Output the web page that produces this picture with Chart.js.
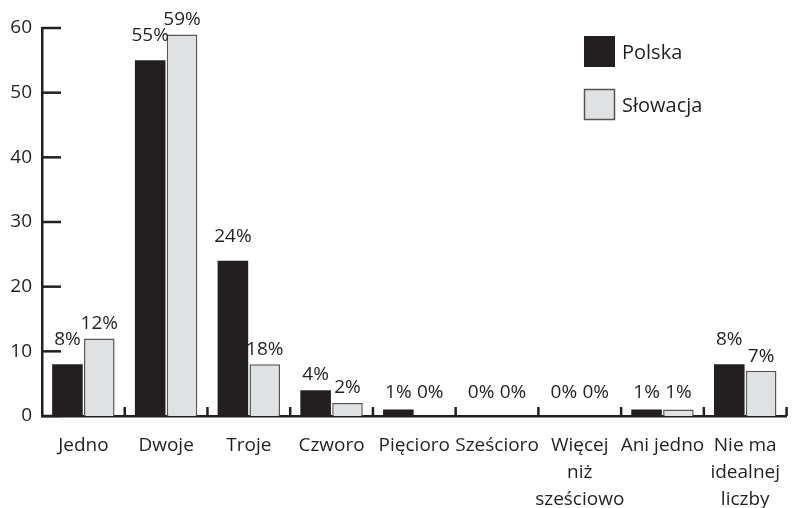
<!DOCTYPE html>
<html>
<head>
<meta charset="utf-8">
<script src="https://cdn.jsdelivr.net/npm/chart.js@4.4.1/dist/chart.umd.min.js"></script>
<style>
  html, body { margin: 0; padding: 0; background: #fff; }
  #wrap { width: 796px; height: 508px; }
</style>
</head>
<body>
<div id="wrap"><canvas id="chart"></canvas></div>
<script>
// dane
const categories = ['Jedno', 'Dwoje', 'Troje', 'Czworo', 'Pięcioro', 'Sześcioro',
    ['Więcej', 'niż', 'sześciowo'], 'Ani jedno', ['Nie ma', 'idealnej', 'liczby']];
const polska = [8, 55, 24, 4, 1, 0, 0, 1, 8];
const slowacja = [12, 59, 8, 2, 0, 0, 0, 1, 7];
const polskaLabels = ['8%', '55%', '24%', '4%', '1%', '0%', '0%', '1%', '8%'];
const slowacjaLabels = ['12%', '59%', '18%', '2%', '0%', '0%', '0%', '1%', '7%'];
const seriesNames = ['Polska', 'Słowacja'];

const INK = '#231f20';
const FONT = 'Open Sans';

// ticki do wewnątrz, etykiety wartości i legenda
const extras = {
    id: 'extras',
    afterDatasetsDraw(chart) {
        const ctx = chart.ctx;
        const x = chart.scales.x, y = chart.scales.y;
        const area = chart.chartArea;
        ctx.save();
        ctx.strokeStyle = INK;
        ctx.lineWidth = 2.5;
        // y ticks
        y.ticks.forEach(t => {
            const py = y.getPixelForValue(t.value);
            ctx.beginPath();
            ctx.moveTo(area.left, py);
            ctx.lineTo(area.left + 19, py);
            ctx.stroke();
        });
        // x ticks na granicach kategorii
        const step = x.getPixelForValue(1) - x.getPixelForValue(0);
        for (let i = 0; i < categories.length; i++) {
            const px = x.getPixelForValue(i) + step / 2;
            ctx.beginPath();
            ctx.moveTo(px, area.bottom);
            ctx.lineTo(px, area.bottom - 9);
            ctx.stroke();
        }
        // etykiety nad słupkami
        const base = y.getPixelForValue(0);
        ctx.fillStyle = INK;
        ctx.font = '19px "' + FONT + '"';
        ctx.textAlign = 'center';
        ctx.textBaseline = 'alphabetic';
        const sets = [polskaLabels, slowacjaLabels];
        const gaps = [19, 9];
        chart.data.datasets.forEach((ds, di) => {
            chart.getDatasetMeta(di).data.forEach((bar, i) => {
                const gap = (base - bar.y > 30) ? gaps[di] : 10;
                const ty = Math.min(bar.y - gap, base - 18);
                ctx.fillText(sets[di][i], bar.x, ty);
            });
        });
        // legenda
        ctx.font = '20px "' + FONT + '"';
        ctx.textAlign = 'left';
        ctx.textBaseline = 'middle';
        chart.data.datasets.forEach((ds, di) => {
            const top = 36 + di * 53;
            ctx.fillStyle = ds.backgroundColor;
            ctx.fillRect(584, top, 31, 31);
            if (di === 1) {
                ctx.lineWidth = 1.5;
                ctx.strokeStyle = ds.borderColor;
                ctx.strokeRect(584.5, top + 0.5, 30, 30);
            }
            ctx.fillStyle = INK;
            ctx.fillText(ds.label, 622, top + 17);
        });
        ctx.restore();
    }
};

new Chart(document.getElementById('chart'), {
    type: 'bar',
    data: {
        labels: categories,
        datasets: [
            {
                label: seriesNames[0],
                data: polska,
                backgroundColor: INK,
                borderColor: INK,
                borderWidth: 0
            },
            {
                label: seriesNames[1],
                data: slowacja,
                backgroundColor: '#e0e1e3',
                borderColor: '#555555',
                borderWidth: 1.5
            }
        ]
    },
    options: {
        responsive: true,
        maintainAspectRatio: false,
        animation: false,
        layout: { padding: { top: 28, right: 0, left: 0, bottom: 0 } },
        plugins: {
            legend: { display: false },
            tooltip: { enabled: false }
        },
        datasets: {
            bar: { categoryPercentage: 0.77, barPercentage: 0.96 }
        },
        scales: {
            x: {
                grid: { display: false, drawTicks: false },
                border: { display: true, color: INK, width: 2.5 },
                ticks: {
                    color: INK,
                    font: { family: FONT, size: 19, lineHeight: 1.42 },
                    padding: 16,
                    maxRotation: 0,
                    autoSkip: false
                },
                afterFit(scale) { scale.height = 92; }
            },
            y: {
                min: 0,
                max: 60,
                grid: { display: false, drawTicks: false },
                border: { display: true, color: INK, width: 2.5 },
                ticks: {
                    stepSize: 10,
                    color: INK,
                    font: { family: FONT, size: 19 },
                    padding: 10
                },
                afterFit(scale) { scale.width = 42; }
            }
        }
    },
    plugins: [extras]
});
</script>
</body>
</html>
